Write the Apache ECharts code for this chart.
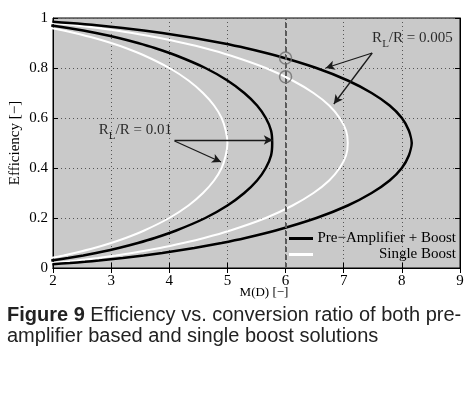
<!DOCTYPE html>
<html>
<head>
<meta charset="utf-8">
<script src="https://cdn.jsdelivr.net/npm/echarts@6/dist/echarts.min.js"></script>
<style>
  html, body { margin: 0; padding: 0; background: #fff; }
  #chart { width: 475px; height: 396px; }
</style>
</head>
<body>
<div id="chart"></div>
<script>
// [M(D), efficiency]
const singleBoost01 = [[1.96,0.04],[2.18,0.05],[2.37,0.06],[2.71,0.08],[3.00,0.10],[3.25,0.12],[3.57,0.15],[4.00,0.20],[4.33,0.25],[4.58,0.30],[4.77,0.35],[4.90,0.40],[4.97,0.45],[5.00,0.50],[4.97,0.55],[4.90,0.60],[4.77,0.65],[4.58,0.70],[4.33,0.75],[4.00,0.80],[3.57,0.85],[3.25,0.88],[3.00,0.90],[2.71,0.92],[2.37,0.94],[2.18,0.95],[1.96,0.96]]
const singleBoost005 = [[1.98,0.02],[2.21,0.025],[2.41,0.03],[2.77,0.04],[3.08,0.05],[3.36,0.06],[3.84,0.08],[4.24,0.10],[4.60,0.12],[5.05,0.15],[5.66,0.20],[6.12,0.25],[6.48,0.30],[6.75,0.35],[6.93,0.40],[7.04,0.45],[7.07,0.50],[7.04,0.55],[6.93,0.60],[6.75,0.65],[6.48,0.70],[6.12,0.75],[5.66,0.80],[5.05,0.85],[4.60,0.88],[4.24,0.90],[3.84,0.92],[3.36,0.94],[3.08,0.95],[2.77,0.96],[2.41,0.97],[2.21,0.975],[1.98,0.98]]
const preAmp01 = [[1.97,0.03],[2.26,0.04],[2.52,0.05],[2.74,0.06],[3.13,0.08],[3.46,0.10],[3.75,0.12],[4.12,0.15],[4.62,0.20],[5.00,0.25],[5.29,0.30],[5.51,0.35],[5.66,0.40],[5.75,0.45],[5.77,0.50],[5.75,0.55],[5.66,0.60],[5.51,0.65],[5.29,0.70],[5.00,0.75],[4.62,0.80],[4.12,0.85],[3.75,0.88],[3.46,0.90],[3.13,0.92],[2.74,0.94],[2.52,0.95],[2.26,0.96],[1.97,0.97]]
const preAmp005 = [[1.99,0.015],[2.29,0.02],[2.55,0.025],[2.79,0.03],[3.20,0.04],[3.56,0.05],[3.88,0.06],[4.43,0.08],[4.90,0.10],[5.31,0.12],[5.83,0.15],[6.53,0.20],[7.07,0.25],[7.48,0.30],[7.79,0.35],[8.00,0.40],[8.12,0.45],[8.17,0.50],[8.12,0.55],[8.00,0.60],[7.79,0.65],[7.48,0.70],[7.07,0.75],[6.53,0.80],[5.83,0.85],[5.31,0.88],[4.90,0.90],[4.43,0.92],[3.88,0.94],[3.56,0.95],[3.20,0.96],[2.79,0.97],[2.55,0.975],[2.29,0.98],[1.99,0.985]]

// operating point M = 6 and the two circled efficiencies
const markM = 6
const circledPoints = [[6, 0.84], [6, 0.765]]

// annotation labels and arrows (data coordinates)
const notes = [
  { name: '0.01', at: [2.78, 0.552] },
  { name: '0.005', at: [7.48, 0.92] }
]
const arrows = [
  [[4.09, 0.512], [5.78, 0.512]],
  [[4.09, 0.508], [4.89, 0.424]],
  [[7.49, 0.86], [6.69, 0.80]],
  [[7.49, 0.86], [6.83, 0.656]]
]

const serif = '"Liberation Serif", "DejaVu Serif", serif'
const sans = '"Liberation Sans", Arial, sans-serif'
const nameBlack = 'Pre\u2212Amplifier + Boost'
const nameWhite = 'Single Boost'

const chart = echarts.init(document.getElementById('chart'))

const curve = (name, data, color, width) => ({
  name,
  type: 'line',
  data,
  showSymbol: false,
  symbol: 'none',
  smooth: 0.2,
  color,
  lineStyle: { color, width },
  silent: true
})

const option = {
  animation: false,
  grid: {
    left: 51,
    right: 15,
    top: 18,
    bottom: 128,
    show: true,
    backgroundColor: '#c9c9c9',
    borderColor: '#000',
    borderWidth: 1
  },
  legend: {
    data: [nameBlack, nameWhite],
    orient: 'vertical',
    left: 284,
    top: 226,
    itemGap: 1,
    itemWidth: 24,
    itemHeight: 3,
    icon: 'rect',
    formatter: name => '{t|' + name + '}',
    textStyle: {
      fontFamily: serif,
      fontSize: 15,
      color: '#000',
      rich: {
        t: { fontFamily: serif, fontSize: 15, color: '#000', width: 138, align: 'right' }
      }
    }
  },
  xAxis: [{
    type: 'value',
    min: 2,
    max: 9,
    interval: 1,
    name: 'M(D) [\u2212]',
    nameLocation: 'middle',
    nameGap: 18,
    nameMoveOverlap: false,
    nameTextStyle: { fontFamily: serif, fontSize: 13, color: '#000', padding: [0, 0, 0, 15] },
    axisLine: { show: true, lineStyle: { color: '#000' } },
    axisTick: { show: true, inside: true, length: 5, lineStyle: { color: '#000' } },
    axisLabel: { fontFamily: serif, fontSize: 15, color: '#000', margin: 6 },
    splitLine: { show: true, lineStyle: { color: '#555', type: [1, 3], width: 1 } }
  }, {
    type: 'value',
    position: 'top',
    min: 2,
    max: 9,
    interval: 1,
    axisLine: { show: true, lineStyle: { color: '#000' } },
    axisTick: { show: true, inside: true, length: 5, lineStyle: { color: '#000' } },
    axisLabel: { show: false },
    splitLine: { show: false }
  }],
  yAxis: [{
    type: 'value',
    min: 0,
    max: 1,
    interval: 0.2,
    name: 'Efficiency [\u2212]',
    nameLocation: 'middle',
    nameGap: 30,
    nameMoveOverlap: false,
    nameTextStyle: { fontFamily: serif, fontSize: 15, color: '#000' },
    axisLine: { show: true, lineStyle: { color: '#000' } },
    axisTick: { show: true, inside: true, length: 5, lineStyle: { color: '#000' } },
    axisLabel: { fontFamily: serif, fontSize: 15, color: '#000', margin: 5 },
    splitLine: { show: true, lineStyle: { color: '#555', type: [1, 3], width: 1 } }
  }, {
    type: 'value',
    position: 'right',
    min: 0,
    max: 1,
    interval: 0.2,
    axisLine: { show: true, lineStyle: { color: '#000' } },
    axisTick: { show: true, inside: true, length: 5, lineStyle: { color: '#000' } },
    axisLabel: { show: false },
    splitLine: { show: false }
  }],
  series: [
    {
      name: 'marker',
      type: 'line',
      data: [],
      silent: true,
      markLine: {
        silent: true,
        symbol: 'none',
        label: { show: false },
        lineStyle: { color: '#5a5a5a', type: [5, 3], width: 2 },
        data: [{ xAxis: markM }]
      }
    },
    curve(nameWhite, singleBoost01, '#ffffff', 2),
    curve(nameWhite, singleBoost005, '#ffffff', 2),
    curve(nameBlack, preAmp01, '#000000', 2.5),
    curve(nameBlack, preAmp005, '#000000', 2.5),
    {
      name: 'circles',
      type: 'scatter',
      data: circledPoints,
      symbol: 'circle',
      symbolSize: 12,
      silent: true,
      z: 5,
      itemStyle: { color: 'transparent', borderColor: '#6e6e6e', borderWidth: 1.5 }
    },
    {
      name: 'notes',
      type: 'scatter',
      data: notes.map(n => ({ value: n.at, label: { formatter: '{r|R}{s|L}{r|/R = ' + n.name + '}' } })),
      symbolSize: 1,
      silent: true,
      itemStyle: { color: 'transparent' },
      label: {
        show: true,
        position: 'right',
        distance: 0,
        rich: {
          r: { fontFamily: serif, fontSize: 15, color: '#000' },
          s: { fontFamily: serif, fontSize: 11, color: '#000', padding: [12, 0, 0, 0] }
        }
      },
      markLine: {
        silent: true,
        symbol: ['none', 'arrow'],
        symbolSize: [7, 9],
        label: { show: false },
        lineStyle: { color: '#1a1a1a', width: 1.3, type: 'solid' },
        data: arrows.map(a => [{ coord: a[0] }, { coord: a[1] }])
      }
    }
  ],
  graphic: [{
    type: 'text',
    left: 7,
    top: 305,
    style: {
      text: '{b|Figure 9} Efficiency vs. conversion ratio of both pre-\namplifier based and single boost solutions',
      fontFamily: sans,
      fontSize: 20,
      lineHeight: 21,
      fill: '#222',
      rich: {
        b: { fontFamily: sans, fontSize: 20, fontWeight: 'bold', fill: '#222', lineHeight: 21 }
      }
    }
  }]
}

chart.setOption(option)
</script>
</body>
</html>
